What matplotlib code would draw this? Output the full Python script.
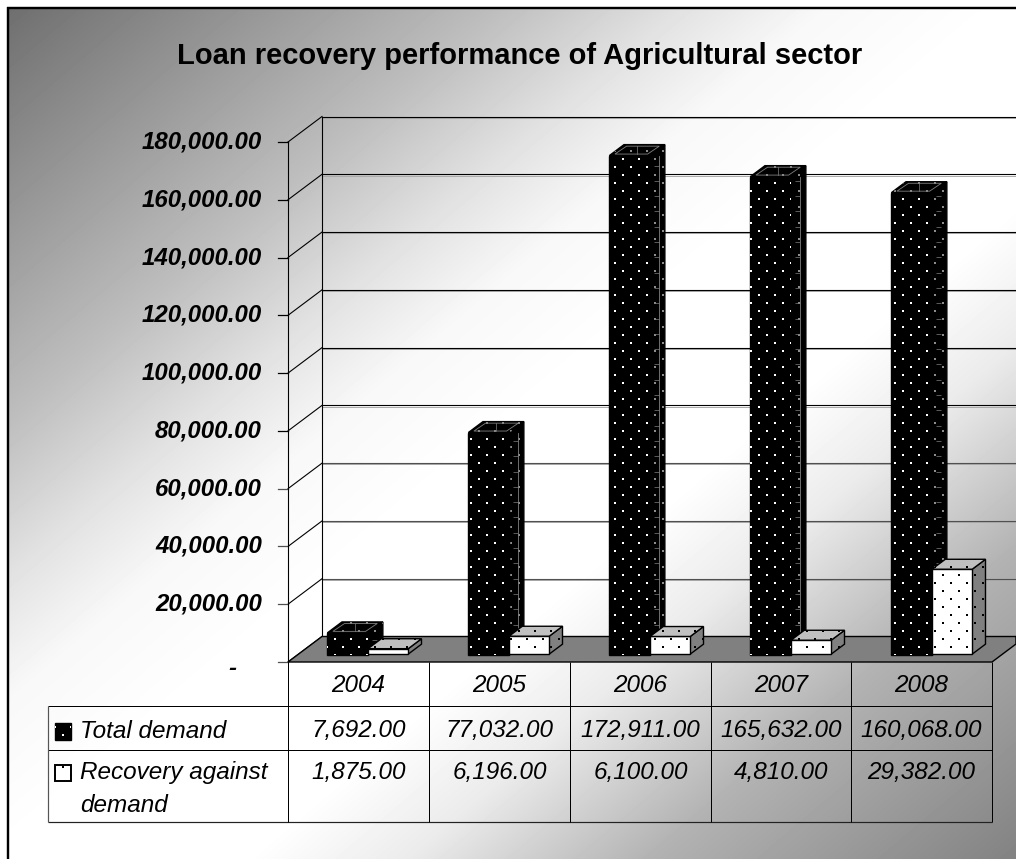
import numpy as np
import matplotlib
matplotlib.use("Agg")
import matplotlib.pyplot as plt
from matplotlib.patches import Polygon

# Chart data
years = ["2004", "2005", "2006", "2007", "2008"]
total_demand = [7692.00, 77032.00, 172911.00, 165632.00, 160068.00]
recovery = [1875.00, 6196.00, 6100.00, 4810.00, 29382.00]
y_ticks = [0, 20000, 40000, 60000, 80000, 100000, 120000, 140000, 160000, 180000]
title = "Loan recovery performance of Agricultural sector"
row_names = ["Total demand", "Recovery against\ndemand"]

W, H = 1016, 859
CAT_PX = 141.0                 # pixels per category
VAL_PX = 520.0 / 180000.0      # pixels per unit of value
ORIGIN_X, ORIGIN_Y = 358.5, 662.0
DEPTH_X, DEPTH_Y = 34.0, 25.5  # oblique shift from front plane to back wall

plt.rcParams["font.family"] = ["Liberation Sans", "DejaVu Sans"]
fig = plt.figure(figsize=(W / 100, H / 100), dpi=100, facecolor="white")
ax = fig.add_axes([0, 0, 1, 1])
ax.set_axis_off()
ax.set_autoscale_on(False)


def X(px):
    return (np.asarray(px, float) - ORIGIN_X) / CAT_PX


def Y(py):
    return (ORIGIN_Y - np.asarray(py, float)) / VAL_PX


def pts(seq):
    """Convert layout pixel pairs to data coordinates."""
    return [(float(X(a)), float(Y(b))) for a, b in seq]


def project(cat, value, depth):
    """Oblique projection of (category, value, depth) onto the page."""
    return (cat + depth * DEPTH_X / CAT_PX, value + depth * DEPTH_Y / VAL_PX)


def hline(x0, x1, py, lw=1.0, color="black", z=3):
    ax.plot([X(x0), X(x1)], [Y(py), Y(py)], color=color, lw=lw * 0.72, zorder=z, solid_capstyle="butt")


def vline(px, y0, y1, lw=1.0, color="black", z=3):
    ax.plot([X(px), X(px)], [Y(y0), Y(y1)], color=color, lw=lw * 0.72, zorder=z, solid_capstyle="butt")


# Diagonal background gradient inside the frame: dark corner, wide pale band, dark corner
yy, xx = np.mgrid[8:H, 8:W]
t = (xx / W + yy / H) / 2
grad = np.interp(t, [0.0, 0.25, 0.34, 0.41, 0.5, 0.62, 0.7, 0.82, 1.0],
                 [108, 190, 226, 248, 255, 255, 235, 178, 130])
ax.imshow(grad, cmap="gray", vmin=0, vmax=255, aspect="auto", zorder=0,
          extent=(float(X(8)), float(X(W)), float(Y(H)), float(Y(8))), origin="upper",
          interpolation="bilinear")
ax.set_xlim(-ORIGIN_X / CAT_PX, (W - ORIGIN_X) / CAT_PX)
ax.set_ylim((ORIGIN_Y - H) / VAL_PX, ORIGIN_Y / VAL_PX)
hline(7, W, 8, lw=2.4, z=6)
vline(8, 7, H, lw=2.4, z=6)

ax.text(X(520), Y(56), title, fontsize=21.0, fontweight="bold", ha="center", va="center", zorder=6)

# Floor of the plot box
front_r = 992.0
floor = [(ORIGIN_X - 70.5, ORIGIN_Y), (ORIGIN_X - 70.5 + DEPTH_X, ORIGIN_Y - DEPTH_Y), (W, ORIGIN_Y - DEPTH_Y),
         (W, ORIGIN_Y - (W - front_r) * DEPTH_Y / DEPTH_X), (front_r, ORIGIN_Y)]
ax.add_patch(Polygon(pts(floor), closed=True, fc="#808080", ec="black", lw=1.0, zorder=2))

# Gridlines on the back wall and side wall, ticks and tick labels
for v in y_ticks:
    x_f, y_f = project(-0.5, v, 0.0)
    x_b, y_b = project(-0.5, v, 1.0)
    line_col = "black" if v >= 80000 else "#505050"
    if v > 0:
        ax.plot([x_b, X(W)], [y_b, y_b], color=line_col, lw=0.8, zorder=1.5)
        ax.plot([x_b, X(W)], [y_b - 1.3 / VAL_PX] * 2, color="#aaaaaa", lw=0.7, zorder=1.4)
    ax.plot([x_f, x_b], [y_f, y_b], color="black", lw=0.8, zorder=1.5)
    ax.plot([x_f - 10 / CAT_PX, x_f], [y_f, y_f], color=line_col, lw=0.9, zorder=3)
    if v:
        ax.text(X(262), y_f, f"{v:,.2f}", fontsize=17.3, fontweight="bold", style="italic",
                ha="right", va="center", zorder=6)
    else:
        ax.text(X(232), y_f - 7 / VAL_PX, "-", fontsize=17.3, fontweight="bold", style="italic",
                ha="center", va="center", zorder=6)
bx0, by0 = project(-0.5, 0, 0.0)
bx1, by1 = project(-0.5, max(y_ticks), 0.0)
ax.plot([bx0, bx1], [by0, by1], color="black", lw=0.8, zorder=3)
bx0, by0 = project(-0.5, 0, 1.0)
bx1, by1 = project(-0.5, max(y_ticks), 1.0)
ax.plot([bx0, bx1], [by0, by1], color="black", lw=0.8, zorder=1.5)

# Global staggered dot lattice (16 px spacing) used by the bar fill pattern
gx0, gy0 = np.meshgrid(np.arange(7, W, 16), np.arange(7, H, 16))
gx1, gy1 = np.meshgrid(np.arange(15, W, 16), np.arange(15, H, 16))
dots_px = np.column_stack([np.r_[gx0.ravel(), gx1.ravel()], np.r_[gy0.ravel(), gy1.ravel()]])


def dotted_face(corners, fc, dot_color, z, ec="black", lw=1.0, dot=2.0):
    patch = Polygon(corners, closed=True, fc=fc, ec=ec, lw=lw, zorder=z, joinstyle="miter")
    ax.add_patch(patch)
    sc = ax.scatter(X(dots_px[:, 0]), Y(dots_px[:, 1]), s=(dot * 0.72) ** 2, marker="s",
                    color=dot_color, linewidths=0, zorder=z + 0.01)
    sc.set_clip_path(patch)


def bar3d(cat, value, offset, width, d0, d1, colors, z):
    x0, x1 = cat + offset, cat + offset + width
    f = [project(x0, 0, d0), project(x1, 0, d0), project(x1, value, d0), project(x0, value, d0)]
    s = [project(x1, 0, d0), project(x1, 0, d1), project(x1, value, d1), project(x1, value, d0)]
    tp = [project(x0, value, d0), project(x1, value, d0), project(x1, value, d1), project(x0, value, d1)]
    dotted_face(s, colors["side"], colors["side_dot"], z)
    dotted_face(f, colors["front"], colors["front_dot"], z + 0.02)
    dotted_face(tp, colors["top"], colors["top_dot"], z + 0.04)
    return f, s, tp


dark = dict(front="black", front_dot="white", side="black", side_dot="#8c8c8c", top="black", top_dot="#8c8c8c")
light = dict(front="white", front_dot="black", side="#808080", side_dot="black", top="#c0c0c0", top_dot="black")
GREY = "#808080"

for i in range(len(years)):
    base = 4 + i * 0.1
    f, s, tp = bar3d(i, total_demand[i], -0.286, 0.29, 0.27, 0.70, dark, base)
    # Thin grey inner outline and divider on the dark cap
    cx = np.mean([p[0] for p in tp])
    cy = np.mean([p[1] for p in tp])
    inner = [(cx + (p[0] - cx) * 0.8, cy + (p[1] - cy) * 0.72) for p in tp]
    ax.add_patch(Polygon(inner, closed=True, fc="none", ec=GREY, lw=0.6, zorder=base + 0.05))
    ax.plot([cx, cx], [inner[0][1], inner[2][1]], color=GREY, lw=0.5, zorder=base + 0.05)
    # Fine grey rule and ticks down the dark side face
    side_x = s[0][0] + 9 / CAT_PX
    tick_vals = np.arange(s[0][1], s[3][1], 15.3 / VAL_PX)
    if i < len(years) - 1 and i > 0:
        ax.plot([side_x, side_x], [s[0][1], s[3][1]], color=GREY, lw=0.6, zorder=base + 0.015)
    ax.hlines(tick_vals, side_x - 5 / CAT_PX, side_x, color=GREY, lw=0.5, zorder=base + 0.015)
    bar3d(i, recovery[i], -0.007, 0.285, 0.31, 0.70, light, base + 0.06)

# Data table beneath the plot
col_x = [288, 429, 570, 711, 851, 992]
row_y = [662, 706, 750, 822]
table_left = 48
hline(col_x[0], col_x[-1], row_y[1], z=3)
hline(table_left, col_x[0], row_y[1], z=3)
hline(table_left, col_x[-1], row_y[2], z=3)
hline(table_left, col_x[-1], row_y[3], lw=1.2, color="#222222", z=3)
vline(table_left, row_y[1], row_y[3], lw=1.2, color="#555555")
for cx_ in col_x:
    vline(cx_, row_y[0], row_y[3])

centers = [(a + b) / 2 for a, b in zip(col_x[:-1], col_x[1:])]
txt = dict(fontsize=17.5, style="italic", va="center", zorder=6)
for c, yr, td, rc in zip(centers, years, total_demand, recovery):
    ax.text(X(c), Y(685), yr, ha="center", **txt)
    ax.text(X(c), Y(731), f"{td:,.2f}", ha="center", **txt)
    ax.text(X(c), Y(772), f"{rc:,.2f}", ha="center", **txt)

first, second = row_names[1].split("\n")
ax.text(X(80), Y(732), row_names[0], ha="left", **txt)
ax.text(X(80), Y(773), first, ha="left", **txt)
ax.text(X(80), Y(806), second, ha="left", **txt)

# Legend keys in the first column of the table
dotted_face(pts([(55, 723), (71, 723), (71, 740), (55, 740)]), "black", "white", 5)
dotted_face(pts([(55, 765), (71, 765), (71, 781), (55, 781)]), "white", "black", 5, lw=1.4)

fig.savefig("out.png", dpi=100)
